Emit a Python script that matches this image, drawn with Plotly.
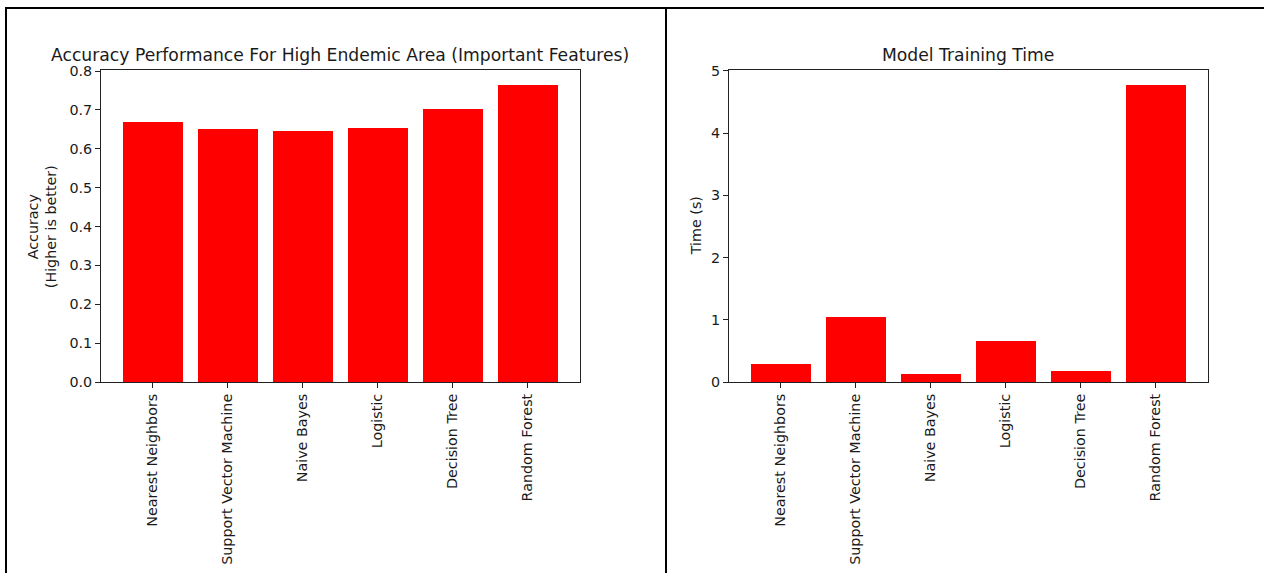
import plotly.graph_objects as go

# Classifier names shared by both panels
models = ["Nearest Neighbors", "Support Vector Machine", "Naive Bayes",
          "Logistic", "Decision Tree", "Random Forest"]

# Accuracy on the high endemic area, important features only
accuracy = [0.668, 0.650, 0.645, 0.653, 0.701, 0.764]

# Training time per model, in seconds
train_time = [0.288, 1.041, 0.122, 0.650, 0.170, 4.771]

acc_ticks = [0.0, 0.1, 0.2, 0.3, 0.4, 0.5, 0.6, 0.7, 0.8]
acc_tick_text = ["0.0", "0.1", "0.2", "0.3", "0.4", "0.5", "0.6", "0.7", "0.8"]
time_ticks = [0, 1, 2, 3, 4, 5]

W, H = 1264, 581
FONT = "DejaVu Sans"
TXT = "#1a1a1a"
TICK_SIZE = 14.3
TITLE_SIZE = 17.2

fig = go.Figure()

idx = list(range(len(models)))
fig.add_trace(go.Bar(x=idx, y=accuracy, width=0.8, marker=dict(color="#ff0000", line=dict(width=0)),
                     xaxis="x", yaxis="y", showlegend=False))
fig.add_trace(go.Bar(x=idx, y=train_time, width=0.8, marker=dict(color="#ff0000", line=dict(width=0)),
                     xaxis="x2", yaxis="y2", showlegend=False))

# pixel -> paper helpers
def px_x(p):
    return p / W

def px_y(p):
    return 1 - p / H

ax_top, ax_bot = 65, 385
left_l, left_r = 101, 579.5
right_l, right_r = 729, 1207.5

common_x = dict(
    tickmode="array", tickvals=idx, ticktext=models, tickangle=-90,
    range=[-0.69, 5.69], showline=True, linecolor="#222", linewidth=1, mirror=True,
    ticks="outside", ticklen=5, tickcolor="#222", tickwidth=1,
    showgrid=False, zeroline=False,
    tickfont=dict(family=FONT, size=TICK_SIZE, color=TXT),
)
common_y = dict(
    showline=True, linecolor="#222", linewidth=1, mirror=True,
    ticks="outside", ticklen=5, tickcolor="#222", tickwidth=1,
    showgrid=False, zeroline=False,
    tickfont=dict(family=FONT, size=TICK_SIZE, color=TXT),
)

fig.update_layout(
    width=W, height=H,
    margin=dict(l=0, r=0, t=0, b=0),
    paper_bgcolor="white", plot_bgcolor="white",
    bargap=0,
    xaxis=dict(domain=[px_x(left_l), px_x(left_r)], anchor="y", **common_x),
    yaxis=dict(domain=[px_y(ax_bot), px_y(ax_top)], anchor="x", range=[0, 0.802],
               tickmode="array", tickvals=acc_ticks, ticktext=acc_tick_text, **common_y),
    xaxis2=dict(domain=[px_x(right_l), px_x(right_r)], anchor="y2", **common_x),
    yaxis2=dict(domain=[px_y(ax_bot), px_y(ax_top)], anchor="x2", range=[0, 5.01],
                tickmode="array", tickvals=time_ticks, **common_y),
)

annotations = [
    dict(text="Accuracy Performance For High Endemic Area (Important Features)",
         x=px_x((left_l + left_r) / 2 - 0.5), y=px_y(49.5), xref="paper", yref="paper",
         showarrow=False, xanchor="center", yanchor="middle",
         font=dict(family=FONT, size=TITLE_SIZE, color=TXT)),
    dict(text="Model Training Time",
         x=px_x((right_l + right_r) / 2), y=px_y(49.5), xref="paper", yref="paper",
         showarrow=False, xanchor="center", yanchor="middle",
         font=dict(family=FONT, size=TITLE_SIZE, color=TXT)),
    dict(text="Accuracy<br>(Higher is better)", textangle=-90,
         x=px_x(42), y=px_y((ax_top + ax_bot) / 2), xref="paper", yref="paper",
         showarrow=False, xanchor="center", yanchor="middle",
         font=dict(family=FONT, size=TICK_SIZE, color=TXT)),
    dict(text="Time (s)", textangle=-90,
         x=px_x(696), y=px_y((ax_top + ax_bot) / 2), xref="paper", yref="paper",
         showarrow=False, xanchor="center", yanchor="middle",
         font=dict(family=FONT, size=TICK_SIZE, color=TXT)),
]
fig.update_layout(annotations=annotations)

# Table-style frame lines around the two panels
frame = dict(type="line", xref="paper", yref="paper", line=dict(color="black", width=2))
fig.update_layout(shapes=[
    dict(frame, x0=px_x(6), x1=px_x(6), y0=0, y1=px_y(0)),
    dict(frame, x0=px_x(666), x1=px_x(666), y0=0, y1=px_y(0)),
    dict(frame, x0=px_x(5), x1=1, y0=px_y(1), y1=px_y(1)),
])

fig.write_html("out.html")
